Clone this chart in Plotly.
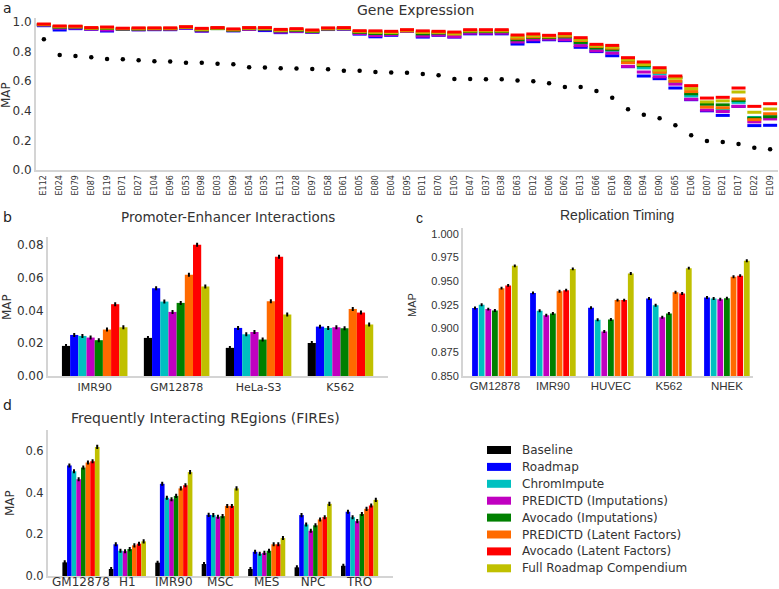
import plotly.graph_objects as go

W, H = 779, 589

series_names = ["Baseline", "Roadmap", "ChromImpute", "PREDICTD (Imputations)",
                "Avocado (Imputations)", "PREDICTD (Latent Factors)",
                "Avocado (Latent Factors)", "Full Roadmap Compendium"]
series_colors = ["#000000", "#0000ff", "#00c0c0", "#c000c0", "#008000",
                 "#ff6a00", "#ff0000", "#c0c000"]

# ---------------- Panel a: Gene Expression ----------------
ge_cells = ["E112", "E024", "E079", "E087", "E119", "E071", "E027", "E104", "E096", "E053",
            "E098", "E003", "E099", "E054", "E035", "E113", "E028", "E097", "E058", "E061",
            "E005", "E080", "E004", "E095", "E011", "E070", "E105", "E047", "E037", "E038",
            "E063", "E012", "E006", "E062", "E013", "E066", "E016", "E089", "E094", "E090",
            "E065", "E106", "E007", "E021", "E017", "E022", "E109"]
ge_baseline = [0.883, 0.777, 0.770, 0.761, 0.750, 0.748, 0.741, 0.734, 0.733, 0.725,
               0.725, 0.718, 0.714, 0.694, 0.692, 0.687, 0.685, 0.683, 0.680, 0.671,
               0.670, 0.662, 0.658, 0.657, 0.649, 0.640, 0.615, 0.615, 0.614, 0.613,
               0.604, 0.599, 0.586, 0.561, 0.561, 0.534, 0.489, 0.410, 0.374, 0.349,
               0.302, 0.234, 0.196, 0.189, 0.176, 0.151, 0.140]
ge_roadmap = [0.975, 0.946, 0.955, 0.950, 0.939, 0.950, 0.947, 0.948, 0.948, 0.957,
              0.938, 0.957, 0.940, 0.950, 0.942, 0.928, 0.935, 0.930, 0.949, 0.951,
              0.918, 0.900, 0.910, 0.937, 0.898, 0.910, 0.898, 0.920, 0.920, 0.920,
              0.851, 0.867, 0.880, 0.874, 0.829, 0.800, 0.772, 0.698, 0.635, 0.617,
              0.554, 0.475, 0.400, 0.369, 0.430, 0.300, 0.302]
ge_chromimpute = [0.980, 0.962, 0.963, 0.954, 0.950, 0.952, 0.950, 0.952, 0.952, 0.962,
                  0.943, 0.957, 0.944, 0.952, 0.950, 0.935, 0.940, 0.934, 0.951, 0.953,
                  0.926, 0.915, 0.918, 0.940, 0.912, 0.918, 0.910, 0.930, 0.930, 0.930,
                  0.872, 0.888, 0.890, 0.890, 0.855, 0.815, 0.808, 0.738, 0.690, 0.650,
                  0.595, 0.500, 0.435, 0.410, 0.457, 0.355, 0.365]
ge_predictd_imp = [0.979, 0.958, 0.960, 0.952, 0.946, 0.951, 0.948, 0.950, 0.950, 0.960,
                   0.940, 0.957, 0.942, 0.950, 0.948, 0.932, 0.937, 0.932, 0.950, 0.952,
                   0.922, 0.908, 0.914, 0.938, 0.905, 0.912, 0.900, 0.925, 0.925, 0.925,
                   0.865, 0.880, 0.885, 0.880, 0.840, 0.805, 0.790, 0.700, 0.662, 0.630,
                   0.580, 0.478, 0.405, 0.395, 0.430, 0.325, 0.345]
ge_avocado_imp = [0.982, 0.965, 0.966, 0.956, 0.956, 0.953, 0.952, 0.954, 0.954, 0.963,
                  0.946, 0.955, 0.945, 0.955, 0.952, 0.940, 0.944, 0.936, 0.953, 0.955,
                  0.930, 0.922, 0.922, 0.942, 0.920, 0.925, 0.925, 0.935, 0.935, 0.935,
                  0.880, 0.895, 0.895, 0.900, 0.862, 0.825, 0.815, 0.735, 0.705, 0.668,
                  0.625, 0.515, 0.445, 0.440, 0.470, 0.350, 0.360]
ge_predictd_lf = [0.984, 0.970, 0.969, 0.960, 0.962, 0.956, 0.957, 0.958, 0.958, 0.966,
                  0.952, 0.960, 0.950, 0.960, 0.958, 0.946, 0.950, 0.942, 0.957, 0.959,
                  0.937, 0.933, 0.930, 0.940, 0.932, 0.932, 0.918, 0.942, 0.942, 0.942,
                  0.890, 0.900, 0.900, 0.905, 0.875, 0.835, 0.823, 0.725, 0.718, 0.660,
                  0.600, 0.530, 0.425, 0.420, 0.480, 0.340, 0.380]
ge_avocado_lf = [0.986, 0.973, 0.972, 0.962, 0.966, 0.958, 0.960, 0.960, 0.960, 0.968,
                 0.957, 0.962, 0.953, 0.962, 0.962, 0.950, 0.955, 0.946, 0.960, 0.962,
                 0.941, 0.940, 0.937, 0.948, 0.940, 0.937, 0.932, 0.948, 0.948, 0.948,
                 0.912, 0.919, 0.910, 0.921, 0.894, 0.849, 0.842, 0.759, 0.730, 0.691,
                 0.635, 0.570, 0.486, 0.491, 0.554, 0.430, 0.448]
ge_full = [0.983, 0.968, 0.968, 0.958, 0.960, 0.955, 0.955, 0.956, 0.956, 0.965,
           0.950, 0.959, 0.948, 0.958, 0.956, 0.943, 0.948, 0.940, 0.955, 0.957,
           0.935, 0.930, 0.928, 0.945, 0.930, 0.930, 0.922, 0.940, 0.940, 0.940,
           0.900, 0.908, 0.903, 0.912, 0.880, 0.840, 0.830, 0.745, 0.712, 0.675,
           0.620, 0.550, 0.460, 0.467, 0.527, 0.390, 0.412]

# ---------------- Panel b: Promoter-Enhancer Interactions ----------------
pe_cells = ["IMR90", "GM12878", "HeLa-S3", "K562"]
pe_values = [
    [0.0184, 0.0233, 0.0172, 0.0202],
    [0.0251, 0.0537, 0.0294, 0.0302],
    [0.0245, 0.0455, 0.0255, 0.0294],
    [0.0235, 0.0392, 0.0269, 0.0298],
    [0.0219, 0.0447, 0.0223, 0.0292],
    [0.0284, 0.0619, 0.0457, 0.0410],
    [0.0439, 0.0802, 0.0729, 0.0388],
    [0.0298, 0.0547, 0.0376, 0.0315],
]

# ---------------- Panel c: Replication Timing ----------------
rt_cells = ["GM12878", "IMR90", "HUVEC", "K562", "NHEK"]
rt_values = [
    [0.9216, 0.9376, 0.9220, 0.9316, 0.9327],
    [0.9252, 0.9188, 0.9092, 0.9245, 0.9316],
    [0.9205, 0.9141, 0.8970, 0.9120, 0.9310],
    [0.9191, 0.9159, 0.9095, 0.9159, 0.9320],
    [0.9426, 0.9394, 0.9300, 0.9383, 0.9547],
    [0.9455, 0.9405, 0.9300, 0.9370, 0.9558],
    [0.9661, 0.9629, 0.9580, 0.9637, 0.9715],
]

# ---------------- Panel d: FIREs ----------------
fire_cells = ["GM12878", "H1", "IMR90", "MSC", "MES", "NPC", "TRO"]
fire_values = [
    [0.0654, 0.0335, 0.0638, 0.0574, 0.0335, 0.0415, 0.0490],
    [0.530, 0.152, 0.442, 0.293, 0.116, 0.292, 0.308],
    [0.502, 0.121, 0.375, 0.292, 0.107, 0.247, 0.282],
    [0.464, 0.119, 0.368, 0.284, 0.111, 0.217, 0.263],
    [0.520, 0.129, 0.384, 0.287, 0.121, 0.243, 0.297],
    [0.544, 0.147, 0.420, 0.336, 0.152, 0.271, 0.322],
    [0.550, 0.155, 0.435, 0.336, 0.152, 0.282, 0.338],
    [0.619, 0.166, 0.498, 0.420, 0.182, 0.346, 0.365],
]

FONT = "DejaVu Sans"
ARIAL = "Liberation Sans"
TXT = "#333333"
AXC = "#d4d4d4"


def px(x):
    return x / W


def py(y):
    return 1 - y / H


fig = go.Figure()

# panel a traces
ge_series = [ge_roadmap, ge_chromimpute, ge_predictd_imp, ge_avocado_imp,
             ge_predictd_lf, ge_full, ge_avocado_lf]
ge_colors = [series_colors[1], series_colors[2], series_colors[3], series_colors[4],
             series_colors[5], series_colors[7], series_colors[6]]
for vals, col in zip(ge_series, ge_colors):
    fig.add_trace(go.Scatter(x=ge_cells, y=vals, mode="markers", xaxis="x", yaxis="y",
                             marker=dict(symbol="line-ew", size=10,
                                         line=dict(color=col, width=3)),
                             showlegend=False))
fig.add_trace(go.Scatter(x=ge_cells, y=ge_baseline, mode="markers", xaxis="x", yaxis="y",
                         marker=dict(symbol="circle", size=4.5, color="#000000"),
                         showlegend=False))

# panel b
for i in range(8):
    fig.add_trace(go.Bar(x=pe_cells, y=pe_values[i], xaxis="x2", yaxis="y2",
                         marker=dict(color=series_colors[i], line=dict(width=0)),
                         width=0.1, name=series_names[i], showlegend=False,
                         error_y=dict(type="constant", value=0.0006, color="#000000",
                                      thickness=2, width=1)))
# panel c
for i in range(7):
    fig.add_trace(go.Bar(x=rt_cells, y=rt_values[i], xaxis="x3", yaxis="y3",
                         marker=dict(color=series_colors[i + 1], line=dict(width=0)),
                         width=0.1, name=series_names[i + 1], showlegend=False,
                         error_y=dict(type="constant", value=0.0005, color="#000000",
                                      thickness=2, width=1)))
# panel d
for i in range(8):
    fig.add_trace(go.Bar(x=fire_cells, y=fire_values[i], xaxis="x4", yaxis="y4",
                         marker=dict(color=series_colors[i], line=dict(width=0)),
                         width=0.1, name=series_names[i], showlegend=False,
                         error_y=dict(type="constant", value=0.005, color="#000000",
                                      thickness=2, width=1)))

common_axis = dict(showline=True, linecolor=AXC, linewidth=2, showgrid=False,
                   zeroline=False, ticks="", fixedrange=True, automargin=False)

fig.update_layout(
    width=W, height=H, margin=dict(l=0, r=0, t=0, b=0, autoexpand=False),
    paper_bgcolor="white", plot_bgcolor="white",
    barmode="group", bargap=0.2, bargroupgap=0,
    font=dict(family=FONT, color=TXT),
    showlegend=False,
    xaxis=dict(domain=[px(36), px(778)], anchor="y", range=[-0.5, 46.5],
               tickangle=-90,
               tickfont=dict(size=8, family=FONT, color=TXT), **common_axis),
    yaxis=dict(domain=[py(170), py(18)], anchor="x", range=[0, 1.027],
               tickvals=[0, 0.2, 0.4, 0.6, 0.8, 1.0], tickformat=".1f",
               tickfont=dict(size=12, family=FONT, color=TXT), **common_axis),
    xaxis2=dict(domain=[px(48), px(388)], anchor="y2", range=[-0.57, 3.58],
                tickfont=dict(size=11, family=FONT, color=TXT), **common_axis),
    yaxis2=dict(domain=[py(376), py(237)], anchor="x2", range=[0, 0.085],
                tickvals=[0, 0.02, 0.04, 0.06, 0.08], tickformat=".2f",
                tickfont=dict(size=12, family=FONT, color=TXT), **common_axis),
    xaxis3=dict(domain=[px(463), px(753)], anchor="y3", range=[-0.55, 4.45],
                ticklabelstandoff=-2,
                tickfont=dict(size=11.5, family=ARIAL, color=TXT), **common_axis),
    yaxis3=dict(domain=[py(376), py(228)], anchor="x3", range=[0.85, 1.006],
                tickvals=[0.85, 0.875, 0.9, 0.925, 0.95, 0.975, 1.0], tickformat=".3f",
                tickfont=dict(size=11, family=ARIAL, color=TXT), **common_axis),
    xaxis4=dict(domain=[px(48), px(393)], anchor="y4", range=[-0.71, 6.72],
                ticklabelstandoff=-6,
                tickfont=dict(size=12, family=FONT, color=TXT), **common_axis),
    yaxis4=dict(domain=[py(576), py(430)], anchor="x4", range=[0, 0.70],
                tickvals=[0, 0.2, 0.4, 0.6], tickformat=".1f",
                tickfont=dict(size=11.5, family=FONT, color=TXT), **common_axis),
)

annotations = []


def ann(text, x, y, size, family=FONT, angle=0, color=TXT, xanchor="center"):
    annotations.append(dict(text=text, x=px(x), y=py(y), xref="paper", yref="paper",
                            showarrow=False, font=dict(size=size, family=family, color=color),
                            textangle=angle, xanchor=xanchor, yanchor="middle"))


# titles & panel letters
ann("Gene Expression", 415, 10, 14)
ann("Promoter-Enhancer Interactions", 228, 217, 13.5)
ann("Replication Timing", 617, 215, 14, family=ARIAL)
ann("Frequently Interacting REgions (FIREs)", 205, 418, 14)
ann("a", 8, 8, 14, color="#222222")
ann("b", 8, 217, 14, color="#222222")
ann("c", 419, 218, 14, family=ARIAL, color="#222222")
ann("d", 8, 405, 14, color="#222222")
# y-axis titles
ann("MAP", 6, 95, 12, angle=-90)
ann("MAP", 7, 307, 12, angle=-90)
ann("MAP", 412, 305, 11, family=ARIAL, angle=-90)
ann("MAP", 10, 503, 12, angle=-90)

# manual legend
shapes = []
leg_y0 = 450
leg_dy = 16.9
for i, (name, col) in enumerate(zip(series_names, series_colors)):
    yc = leg_y0 + i * leg_dy
    shapes.append(dict(type="rect", xref="paper", yref="paper",
                       x0=px(487), x1=px(511), y0=py(yc + 4), y1=py(yc - 4),
                       fillcolor=col, line=dict(width=0)))
    ann(name, 520, yc, 12, xanchor="left")

fig.update_layout(annotations=annotations, shapes=shapes)

fig.write_html("out.html", config={"displayModeBar": False},
               post_script="document.body.style.margin='0';document.body.style.overflow='hidden';")
